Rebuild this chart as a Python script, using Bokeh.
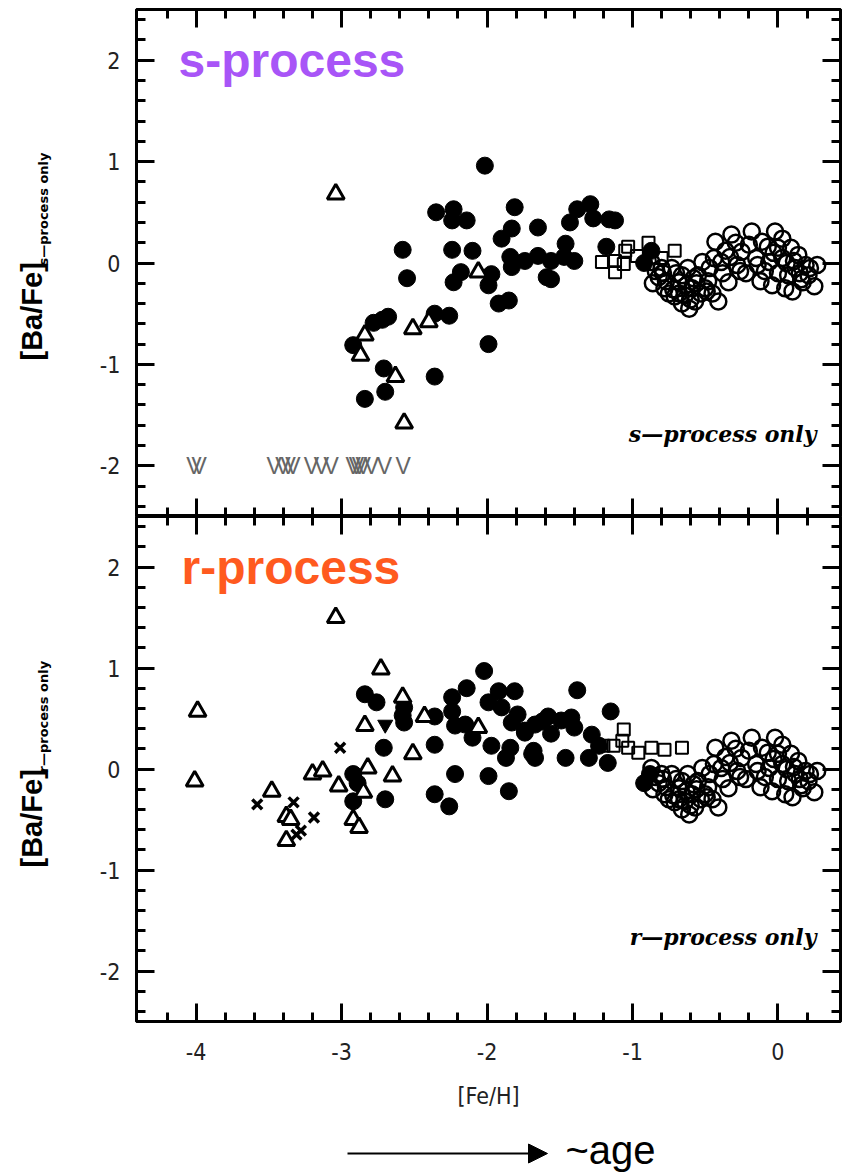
import math
from bokeh.plotting import figure
from bokeh.models import LinearAxis, FixedTicker, Label, Arrow, NormalHead, Range1d, ColumnDataSource
from bokeh.layouts import column, row
from bokeh.core.properties import value
from bokeh.embed import file_html
from bokeh.resources import INLINE

# ---------------- data ----------------
x_ticks = [-4, -3, -2, -1, 0]
x_tick_labels = ["-4", "-3", "-2", "-1", "0"]
y_ticks = [-2, -1, 0, 1, 2]
y_tick_labels = ["-2", "-1", "0", "1", "2"]
x_minor = [-4.2, -3.8, -3.6, -3.4, -3.2, -2.8, -2.6, -2.4, -2.2, -1.8, -1.6, -1.4, -1.2,
           -0.8, -0.6, -0.4, -0.2, 0.2]
y_minor = [-2.4, -2.2, -1.8, -1.6, -1.4, -1.2, -0.8, -0.6, -0.4, -0.2,
           0.2, 0.4, 0.6, 0.8, 1.2, 1.4, 1.6, 1.8, 2.2, 2.4]

# disk stars (open circles), same in both panels
disk_x = [-0.87, -0.82, -0.78, -0.73, -0.68, -0.64, -0.61, -0.59, -0.52, -0.55, -0.50, -0.41,
          -0.43, -0.32, -0.39, -0.34, -0.25, -0.22, -0.18, -0.11, -0.06, -0.02, 0.03, -0.04,
          0.03, 0.07, 0.10, 0.14, 0.19, 0.27, 0.25, 0.17, -0.75, -0.70, -0.66, -0.57, -0.47,
          -0.45, -0.36, -0.28, -0.15, -0.09, 0.00, 0.05, 0.12, 0.09, -0.80, -0.62, -0.29, 0.21,
          -0.12, 0.00, -0.84, -0.77, -0.71, -0.63, -0.58, -0.53, -0.48, -0.38, -0.20, -0.14,
          -0.03, 0.06, 0.15, 0.22, -0.68, -0.44, -0.86, -0.79, -0.72, -0.66, -0.60, -0.56,
          -0.49, -0.26, -0.07, 0.11, 0.16, -0.33]
disk_y = [0.01, -0.14, -0.25, -0.05, -0.19, -0.32, -0.45, -0.25, 0.01, -0.12, -0.25, -0.38,
          0.21, 0.28, 0.01, -0.19, 0.11, -0.10, 0.31, 0.21, 0.01, 0.31, 0.24, -0.22,
          0.05, -0.12, -0.28, 0.08, -0.02, -0.02, -0.23, -0.19, -0.30, -0.10, -0.40, -0.38, -0.05,
          -0.30, 0.12, -0.02, 0.05, -0.08, 0.15, -0.25, -0.05, 0.15, -0.05, -0.05, 0.20, -0.12,
          -0.18, -0.10, -0.08, -0.18, -0.33, -0.22, -0.15, -0.30, -0.18, -0.10, 0.18, -0.02,
          0.10, 0.00, -0.10, -0.05, -0.30, 0.05, -0.20, -0.10, -0.26, -0.12, -0.36, -0.20,
          -0.28, -0.08, 0.16, 0.02, -0.16, 0.06]

# s-process panel
s_circ_x = [-2.015, -2.35, -2.23, -2.24, -2.14, -1.81, -1.83, -1.90, -1.65, -2.58, -2.55, -2.24,
            -2.10, -2.18, -2.23, -1.97, -1.99, -1.84, -1.83, -1.74, -1.65, -1.59, -1.92, -1.85,
            -2.36, -2.26, -1.99, -2.36, -2.78, -2.72, -2.68, -2.92, -2.71, -2.70, -2.84, -1.56,
            -1.46, -1.40, -1.56, -1.47, -1.43, -1.38, -1.29, -1.27, -1.16, -1.12, -1.18, -0.92,
            -0.87]
s_circ_y = [0.96, 0.50, 0.53, 0.42, 0.42, 0.55, 0.34, 0.24, 0.35, 0.13, -0.15, 0.13,
            0.12, -0.09, -0.19, -0.11, -0.22, 0.06, -0.04, 0.02, 0.07, -0.14, -0.40, -0.37,
            -0.50, -0.52, -0.80, -1.12, -0.59, -0.56, -0.53, -0.81, -1.04, -1.27, -1.34, 0.02,
            0.19, 0.02, -0.16, 0.06, 0.40, 0.53, 0.58, 0.44, 0.43, 0.42, 0.16, 0.00,
            0.12]
s_tri_x = [-3.04, -2.84, -2.87, -2.63, -2.51, -2.40, -2.57, -2.06]
s_tri_y = [0.68, -0.71, -0.91, -1.12, -0.65, -0.58, -1.58, -0.09]
s_sq_x = [-1.21, -1.12, -1.06, -1.12, -1.03, -1.05, -0.97, -0.89, -0.71, -0.80]
s_sq_y = [0.01, 0.02, -0.01, -0.09, 0.16, 0.12, 0.07, 0.20, 0.12, 0.05]
# upper limits plotted as "V" at [Ba/Fe] = -2
s_lim_x = [-4.016, -3.979, -3.463, -3.403, -3.367, -3.334, -3.208, -3.139, -3.071, -2.921,
           -2.898, -2.878, -2.852, -2.795, -2.705, -2.577]
s_lim_y = [-2.0] * len(s_lim_x)

# r-process panel
r_circ_x = [-2.84, -2.76, -2.57, -2.57, -2.58, -2.71, -2.92, -2.89, -2.92, -2.70, -2.36, -2.36,
            -2.24, -2.14, -2.24, -2.22, -2.15, -2.10, -2.02, -1.92, -1.81, -1.99, -1.90, -1.79,
            -1.83, -1.74, -1.97, -1.84, -1.87, -1.68, -1.67, -1.62, -2.22, -1.99, -2.36, -2.26,
            -1.85, -1.38, -1.15, -1.67, -1.58, -1.49, -1.42, -1.40, -1.56, -1.74, -1.69, -1.46,
            -1.28, -1.30, -1.17, -1.23, -0.92, -0.88]
r_circ_y = [0.74, 0.66, 0.61, 0.46, 0.53, 0.21, -0.05, -0.14, -0.32, -0.30, 0.52, 0.24,
            0.71, 0.80, 0.57, 0.43, 0.44, 0.31, 0.97, 0.77, 0.77, 0.66, 0.61, 0.54,
            0.46, 0.38, 0.23, 0.21, 0.11, 0.18, 0.11, 0.47, -0.05, -0.07, -0.25, -0.37,
            -0.22, 0.78, 0.57, 0.44, 0.52, 0.48, 0.51, 0.41, 0.35, 0.36, 0.15, 0.11,
            0.34, 0.11, 0.06, 0.23, -0.14, -0.05]
r_tri_x = [-3.04, -2.73, -3.99, -4.01, -2.58, -2.84, -2.51, -2.43, -2.06, -2.82, -2.65, -3.02,
           -3.20, -3.13, -3.48, -3.38, -3.35, -3.38, -2.92, -2.88, -2.85]
r_tri_y = [1.50, 0.99, 0.57, -0.12, 0.71, 0.43, 0.15, 0.52, 0.41, 0.01, -0.07, -0.17,
           -0.05, -0.02, -0.22, -0.47, -0.50, -0.71, -0.50, -0.58, -0.23]
r_itri_x = [-2.70]
r_itri_y = [0.44]
r_cross_x = [-3.01, -3.58, -3.33, -3.19, -3.28, -3.31]
r_cross_y = [0.21, -0.35, -0.33, -0.48, -0.61, -0.65]
r_sq_x = [-1.06, -1.20, -1.13, -1.03, -0.96, -0.87, -0.78, -0.66, -1.07]
r_sq_y = [0.39, 0.23, 0.23, 0.21, 0.16, 0.21, 0.19, 0.21, 0.28]

X_RANGE = (-4.41, 0.43)
Y_RANGE = (-2.5, 2.5)
TICK_FONT = "DejaVu Sans Condensed, Liberation Sans, sans-serif"
LAB_W = 60          # width of the strip that holds the y titles
TOTAL_H = 1125      # height of the two panels together


def style_axis(ax, labels):
    ax.axis_line_width = 3
    ax.axis_line_color = "black"
    ax.major_tick_in = 18
    ax.major_tick_out = 0
    ax.minor_tick_in = 9
    ax.minor_tick_out = 0
    ax.major_tick_line_width = 3
    ax.minor_tick_line_width = 3
    ax.major_tick_line_color = "black"
    ax.minor_tick_line_color = "black"
    if labels:
        ax.major_label_text_font = TICK_FONT
        ax.major_label_text_font_size = "23px"
        ax.major_label_text_color = "#222222"
    else:
        ax.major_label_text_font_size = "0px"
        ax.major_label_text_alpha = 0
        ax.major_label_standoff = 0


def make_panel(frame_h, b_top, b_bottom, x_labels):
    p = figure(frame_width=704, frame_height=frame_h,
               x_range=Range1d(*X_RANGE), y_range=Range1d(*Y_RANGE),
               output_backend="svg", toolbar_location=None,
               min_border_left=136 - LAB_W, min_border_right=3,
               min_border_top=b_top, min_border_bottom=b_bottom)
    p.grid.visible = False
    p.outline_line_color = "black"
    p.outline_line_width = 3
    p.add_layout(LinearAxis(), "above")
    p.add_layout(LinearAxis(), "right")
    xt = FixedTicker(ticks=x_ticks, minor_ticks=x_minor)
    yt = FixedTicker(ticks=y_ticks, minor_ticks=y_minor)
    for ax in p.xaxis:
        ax.ticker = xt
        ax.major_label_overrides = dict(zip(x_ticks, x_tick_labels))
    for ax in p.yaxis:
        ax.ticker = yt
        ax.major_label_overrides = dict(zip(y_ticks, y_tick_labels))
    for ax in p.above + p.right:
        style_axis(ax, False)
    style_axis(p.left[0], True)
    p.left[0].major_label_standoff = 16
    style_axis(p.below[0], x_labels)
    return p


def add_markers(p, cx, cy, tx, ty, sx, sy):
    p.scatter(cx, cy, marker="circle", size=17, fill_color="black", line_color="black")
    p.scatter(disk_x, disk_y, marker="circle", size=16, fill_color=None,
              line_color="black", line_width=2.5)
    p.scatter(sx, sy, marker="square", size=12, fill_color=None, line_color="black", line_width=2)
    p.scatter(tx, ty, marker="triangle", size=17, fill_color="white",
              line_color="black", line_width=3)


def px_x(px):
    return X_RANGE[0] + (px - 136) * (X_RANGE[1] - X_RANGE[0]) / 704.0


def ty_top(py):
    return 2.5 - (py - 9) / 101.4


def ty_bot(py):
    return 2.5 - (py - 516) / 101.0


# ---------- top panel (s-process) ----------
top = make_panel(507, 9, 0, False)
add_markers(top, s_circ_x, s_circ_y, s_tri_x, s_tri_y, s_sq_x, s_sq_y)
lim_src = ColumnDataSource(dict(x=s_lim_x, y=s_lim_y, t=["V"] * len(s_lim_x)))
top.text(x="x", y="y", text="t", source=lim_src, text_font=value("Liberation Sans"),
         text_font_size="23px", text_color="#666666", text_align="center",
         text_baseline="middle")
top.add_layout(Label(x=px_x(178), y=ty_top(60), text="s-process", text_font="Liberation Sans",
                     text_font_style="bold", text_font_size="48px", text_color="#a855f7",
                     text_baseline="middle"))
top.add_layout(Label(x=px_x(816), y=ty_top(433), text="s\u2014process only", text_font="DejaVu Serif",
                     text_font_style="bold italic", text_font_size="22px", text_color="black",
                     text_align="right", text_baseline="middle"))

# ---------- bottom panel (r-process) ----------
bot = make_panel(505, 0, TOTAL_H - 1021, True)
add_markers(bot, r_circ_x, r_circ_y, r_tri_x, r_tri_y, r_sq_x, r_sq_y)
bot.scatter(r_itri_x, r_itri_y, marker="inverted_triangle", size=15, fill_color="black",
            line_color="black")
bot.scatter(r_cross_x, r_cross_y, marker="x", size=14, line_color="black", line_width=3.5)
bx = bot.below[0]
bx.major_label_standoff = 21
bx.axis_label = "[Fe/H]"
bx.axis_label_text_font = TICK_FONT
bx.axis_label_text_font_style = "normal"
bx.axis_label_text_font_size = "23px"
bx.axis_label_text_color = "#222222"
bx.axis_label_standoff = 20
bot.add_layout(Label(x=px_x(181), y=ty_bot(567), text="r-process", text_font="Liberation Sans",
                     text_font_style="bold", text_font_size="48px", text_color="#ff5a1f",
                     text_baseline="middle"))
bot.add_layout(Label(x=px_x(816), y=ty_bot(936), text="r\u2014process only", text_font="DejaVu Serif",
                     text_font_style="bold italic", text_font_size="22px", text_color="black",
                     text_align="right", text_baseline="middle"))

# ---------- y titles strip ----------
ylab = figure(width=LAB_W, height=TOTAL_H, x_range=Range1d(0, LAB_W), y_range=Range1d(0, TOTAL_H),
              min_border=0, toolbar_location=None, output_backend="svg",
              x_axis_location=None, y_axis_location=None)
ylab.grid.visible = False
ylab.outline_line_color = None
ylab.text(x=[31, 31], y=[TOTAL_H - 360, TOTAL_H - 867], text=["[Ba/Fe]", "[Ba/Fe]"],
          angle=math.pi / 2, text_font=value("Liberation Sans"), text_font_style="bold",
          text_font_size="29px", text_align="left", text_baseline="middle",
          text_color="black")
ylab.text(x=[43, 43], y=[TOTAL_H - 265, TOTAL_H - 772],
          text=["s\u2014process only", "r\u2014process only"],
          angle=math.pi / 2, text_font=value("DejaVu Sans"), text_font_style="bold",
          text_font_size="13px", text_align="left", text_baseline="middle",
          text_color="black")

# ---------- age arrow strip ----------
AGE_H = 1173 - TOTAL_H
age = figure(width=843, height=AGE_H, x_range=Range1d(0, 843), y_range=Range1d(0, AGE_H),
             min_border=0, toolbar_location=None, output_backend="svg",
             x_axis_location=None, y_axis_location=None)
age.grid.visible = False
age.outline_line_color = None
age.add_layout(Arrow(x_start=347, y_start=1173 - 1153, x_end=547, y_end=1173 - 1153,
                     line_width=2, line_color="black",
                     end=NormalHead(size=19, fill_color="black", line_color="black")))
age.add_layout(Label(x=565, y=1173 - 1149, text="~age", text_font="Liberation Sans",
                     text_font_size="40px", text_color="black", text_baseline="middle"))

layout = column(row(ylab, column(top, bot, spacing=0), spacing=0), age, spacing=0)
open("out.html", "w").write(file_html(layout, INLINE))
